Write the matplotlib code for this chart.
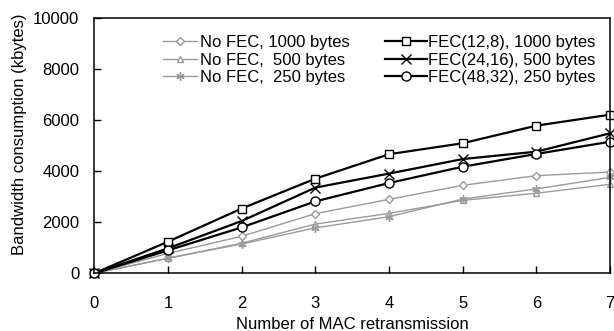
import matplotlib
matplotlib.use("Agg")
import matplotlib.pyplot as plt

plt.rcParams['font.family'] = ['Liberation Sans', 'DejaVu Sans']

x = [0, 1, 2, 3, 4, 5, 6, 7]
nofec_1000 = [0, 780, 1450, 2340, 2900, 3450, 3830, 3970]
nofec_500 = [0, 590, 1180, 1930, 2350, 2860, 3140, 3490]
nofec_250 = [0, 590, 1150, 1780, 2220, 2910, 3310, 3760]
fec_12_8 = [0, 1240, 2540, 3710, 4670, 5100, 5790, 6220]
fec_24_16 = [0, 980, 2050, 3360, 3910, 4480, 4770, 5490]
fec_48_32 = [0, 900, 1800, 2820, 3540, 4180, 4680, 5160]

labels_nofec = ["No FEC, 1000 bytes", "No FEC,  500 bytes", "No FEC,  250 bytes"]
labels_fec = ["FEC(12,8), 1000 bytes", "FEC(24,16), 500 bytes", "FEC(48,32), 250 bytes"]

W, H = 614, 331
fig = plt.figure(figsize=(W / 100, H / 100), dpi=100)
L, R, T, B = 94.3, 610, 18.3, 273.3
ax = fig.add_axes([L / W, 1 - B / H, (R - L) / W, (B - T) / H])

gray = '#9a9a9a'
h1, = ax.plot(x, nofec_1000, color=gray, lw=1, marker='D', ms=4, mfc='white', mec=gray, mew=1)
h2, = ax.plot(x, nofec_500, color=gray, lw=1, marker='^', ms=5, mfc='white', mec=gray, mew=1)
h3, = ax.plot(x, nofec_250, color=gray, lw=1, marker=(6, 2, 0), ms=6, mec=gray, mew=1)
h4, = ax.plot(x, fec_12_8, color='black', lw=1.6, marker='s', ms=6, mfc='white', mec='black', mew=1)
h5, = ax.plot(x, fec_24_16, color='black', lw=1.6, marker='x', ms=7, mec='black', mew=1)
h6, = ax.plot(x, fec_48_32, color='black', lw=1.6, marker='o', ms=6.5, mfc='white', mec='black', mew=1)

for ln in ax.lines:
    ln.set_clip_on(False)

ax.set_xlim(0, 7)
ax.set_ylim(0, 10000)
ax.set_xticks(range(0, 8))
ax.set_yticks(range(0, 10001, 2000))
ax.tick_params(axis='x', direction='in', length=5, width=1, labelsize=12, pad=16)
ax.tick_params(axis='y', direction='in', length=5, width=1, labelsize=12, pad=10.8)
for s in ax.spines.values():
    s.set_linewidth(1.1)

ax.set_xlabel("Number of MAC retransmission", fontsize=12)
ax.set_ylabel("Bandwidth consumption (kbytes)", fontsize=12)
ax.xaxis.set_label_coords(0.5, (B - 317) / (B - T))
ax.yaxis.set_label_coords((27 - L) / (R - L), (B - 134) / (B - T))

leg1 = fig.legend(handles=[h1, h2, h3], labels=labels_nofec, loc='center left',
                  bbox_to_anchor=(163 / W, 1 - 60 / H), frameon=False, fontsize=12,
                  handlelength=2.05, handletextpad=0.15, labelspacing=0.15,
                  borderpad=0, borderaxespad=0)
leg2 = fig.legend(handles=[h4, h5, h6], labels=labels_fec, loc='center left',
                  bbox_to_anchor=(385 / W, 1 - 60 / H), frameon=False, fontsize=12,
                  handlelength=2.5, handletextpad=0.1, labelspacing=0.15,
                  borderpad=0, borderaxespad=0)

fig.savefig("out.png", dpi=100)
